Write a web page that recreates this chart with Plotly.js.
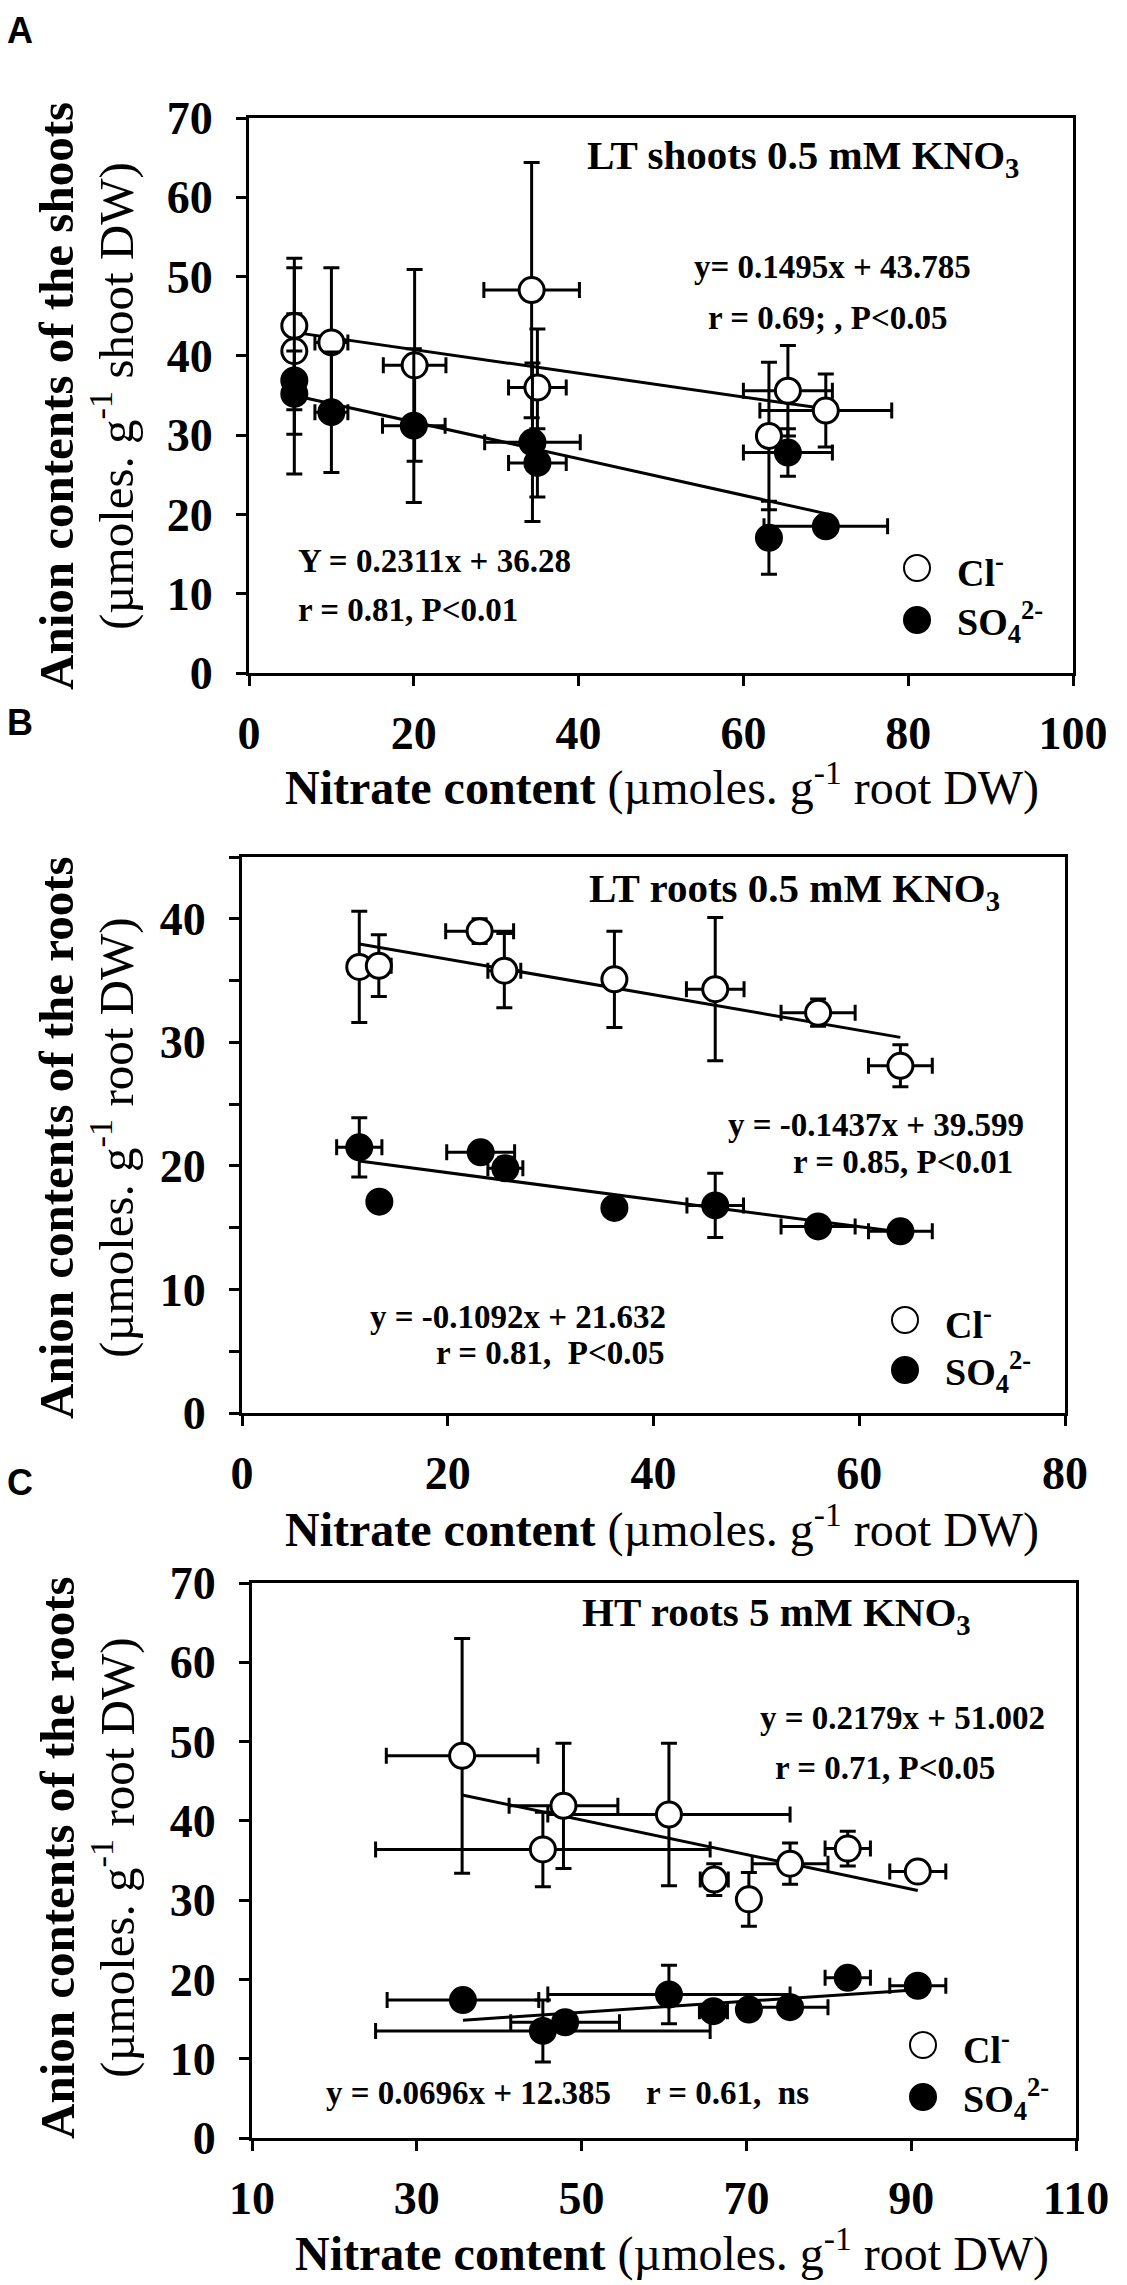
<!DOCTYPE html>
<html>
<head>
<meta charset="utf-8">
<script src="https://cdn.plot.ly/plotly-3.0.1.min.js"></script>
<style>html,body{margin:0;padding:0;background:#fff;}#chart{width:1127px;height:2285px;}</style>
</head>
<body>
<div id="chart"></div>
<script>
// ---------- Panel A : LT shoots 0.5 mM KNO3 ----------
const aClX  = [5.5, 5.5, 10.0, 20.1, 34.3, 35.0, 63.1, 65.4, 70.0];
const aClY  = [43.8, 40.6, 41.7, 38.8, 48.3, 36.0, 29.9, 35.6, 33.1];
const aClEx = [0.5, 0.5, 2.0, 3.8, 5.8, 3.5, 1.0, 5.4, 8.0];
const aClEy = [8.5, 10.5, 9.4, 12.1, 16.1, 7.4, 9.3, 5.7, 4.6];
const aSoX  = [5.5, 5.5, 10.0, 20.0, 34.4, 35.0, 63.1, 65.4, 70.0];
const aSoY  = [36.9, 35.2, 32.9, 31.2, 29.1, 26.5, 17.05, 27.8, 18.5];
const aSoEx = [0.5, 0.5, 2.0, 3.8, 5.8, 3.5, 1.0, 5.4, 7.5];
const aSoEy = [3.7, 10.1, 7.6, 9.7, 10.0, 4.3, 4.6, 3.0, 0.5];
const aClFit = [-0.1495, 43.785];   // slope, intercept
const aSoFit = [-0.2311, 36.28];

// ---------- Panel B : LT roots 0.5 mM KNO3 ----------
const bClX  = [11.4, 13.3, 23.1, 25.5, 36.2, 46.0, 56.0, 64.0];
const bClY  = [36.1, 36.2, 39.0, 35.8, 35.1, 34.3, 32.4, 28.1];
const bClEx = [1.0, 1.2, 3.3, 1.6, 0.6, 2.8, 3.6, 3.1];
const bClEy = [4.5, 2.5, 1.0, 3.0, 3.9, 5.8, 1.1, 1.7];
const bSoX  = [11.4, 13.35, 23.2, 25.6, 36.2, 46.0, 56.0, 64.0];
const bSoY  = [21.5, 17.1, 21.1, 19.8, 16.6, 16.8, 15.1, 14.7];
const bSoEx = [2.2, 0.8, 3.3, 1.7, 0.8, 2.75, 3.6, 3.1];
const bSoEy = [2.4, 0.4, 0.4, 0.9, 0.3, 2.6, 0.8, 0.3];
const bClFit = [-0.1437, 39.599];
const bSoFit = [-0.1092, 21.632];

// ---------- Panel C : HT roots 5 mM KNO3 ----------
const cClX  = [35.5, 45.3, 47.8, 60.6, 66.1, 70.3, 75.3, 82.3, 90.8];
const cClY  = [48.2, 36.4, 41.9, 40.8, 32.6, 30.1, 34.6, 36.5, 33.6];
const cClEx = [9.2, 20.3, 6.6, 14.7, 1.7, 0.5, 4.6, 2.75, 3.4];
const cClEy = [14.8, 4.7, 7.9, 9.0, 2.0, 3.4, 2.6, 2.2, 0.5];
const cSoX  = [35.6, 45.3, 48.0, 60.6, 66.0, 70.3, 75.3, 82.3, 90.8];
const cSoY  = [17.4, 13.5, 14.6, 18.1, 16.0, 16.2, 16.5, 20.2, 19.2];
const cSoEx = [9.2, 20.3, 6.6, 14.7, 1.7, 0.5, 4.6, 2.75, 3.4];
const cSoEy = [0.5, 3.9, 1.0, 3.7, 1.0, 0.5, 0.5, 0.5, 0.5];
const cClFit = [-0.2179, 51.002];
const cSoFit = [0.0696, 12.385];

// axis ranges
const aXRange = [0, 100], aYRange = [0, 70];
const bXRange = [0, 80],  bYRange = [0, 45];
const cXRange = [10, 110], cYRange = [0, 70];

// ---------- layout helpers ----------
const W = 1127, H = 2285;
const px = x => x / W;
const py = y => 1 - y / H;
const SERIF = 'Liberation Serif, Times New Roman, serif';

function fitLine(xs, fit, xa, ya) {
  const x0 = Math.min(...xs), x1 = Math.max(...xs);
  return {type: 'scatter', mode: 'lines', x: [x0, x1], y: [fit[1] + fit[0] * x0, fit[1] + fit[0] * x1],
          xaxis: xa, yaxis: ya, line: {color: 'black', width: 3}, hoverinfo: 'skip', showlegend: false};
}
function pts(name, xs, ys, ex, ey, filled, xa, ya) {
  return {type: 'scatter', mode: 'markers', name: name, x: xs, y: ys, xaxis: xa, yaxis: ya,
    error_x: {type: 'data', array: ex, visible: true, color: 'black', thickness: 3, width: 8},
    error_y: {type: 'data', array: ey, visible: true, color: 'black', thickness: 3, width: 8},
    marker: {symbol: 'circle', size: 25, color: filled ? 'black' : 'white', line: {color: 'black', width: 3}},
    showlegend: false, cliponaxis: false};
}

const traces = [
  fitLine(aClX, aClFit, 'x', 'y'), fitLine(aSoX, aSoFit, 'x', 'y'),
  pts('Cl-', aClX, aClY, aClEx, aClEy, false, 'x', 'y'),
  pts('SO4 2-', aSoX, aSoY, aSoEx, aSoEy, true, 'x', 'y'),
  fitLine(bClX, bClFit, 'x2', 'y2'), fitLine(bSoX, bSoFit, 'x2', 'y2'),
  pts('Cl-', bClX, bClY, bClEx, bClEy, false, 'x2', 'y2'),
  pts('SO4 2-', bSoX, bSoY, bSoEx, bSoEy, true, 'x2', 'y2'),
  fitLine(cClX, cClFit, 'x3', 'y3'), fitLine(cSoX, cSoFit, 'x3', 'y3'),
  pts('Cl-', cClX, cClY, cClEx, cClEy, false, 'x3', 'y3'),
  pts('SO4 2-', cSoX, cSoY, cSoEx, cSoEy, true, 'x3', 'y3')
];

const tickFont = {family: SERIF, size: 46, color: 'black', weight: 700};
function xAx(dom, range, tick0, anchor) {
  return {domain: [px(dom[0]), px(dom[1])], range: range, anchor: anchor, tick0: tick0, dtick: 20,
    showline: true, linewidth: 3, linecolor: 'black', mirror: true, ticks: 'outside', ticklen: 10,
    tickwidth: 3, tickcolor: 'black', showgrid: false, zeroline: false, tickfont: tickFont,
    ticklabelstandoff: 8, fixedrange: true};
}
function yAx(dom, range, anchor, minor) {
  const o = {domain: [py(dom[1]), py(dom[0])], range: range, anchor: anchor, tick0: 0, dtick: 10,
    showline: true, linewidth: 3, linecolor: 'black', mirror: true, ticks: 'outside', ticklen: 10,
    tickwidth: 3, tickcolor: 'black', showgrid: false, zeroline: false, tickfont: tickFont,
    ticklabelstandoff: 14, fixedrange: true};
  if (minor) o.minor = {dtick: 5, ticks: 'outside', ticklen: 10, tickwidth: 3, tickcolor: 'black', showgrid: false};
  return o;
}

const ann = [];
function T(text, x, y, size, opts) {
  ann.push(Object.assign({text: text, x: px(x), y: py(y), xref: 'paper', yref: 'paper', showarrow: false,
    xanchor: 'left', yanchor: 'middle', font: {family: SERIF, size: size, color: 'black'}}, opts || {}));
}
function bold(size) { return {font: {family: SERIF, size: size, color: 'black', weight: 700}}; }

// panel letters
const letterY = [30, 722, 1482];
['A', 'B', 'C'].forEach((l, i) => {
  ann.push({text: l, x: px(5), y: py(letterY[i]), xref: 'paper', yref: 'paper', showarrow: false,
    xanchor: 'left', yanchor: 'middle', font: {family: 'Liberation Sans, Arial, sans-serif', size: 36, color: 'black', weight: 700}});
});

// Panel A texts
T('LT shoots 0.5 mM KNO<sub>3</sub>', 585, 158, 41, bold(41));
T('y= 0.1495x + 43.785', 692, 267, 33, bold(33));
T('r = 0.69; , P<0.05', 706, 318, 33, bold(33));
T('Y = 0.2311x + 36.28', 296, 561, 33, bold(33));
T('r = 0.81, P<0.01', 296, 610, 33, bold(33));
// Panel B texts
T('LT roots 0.5 mM KNO<sub>3</sub>', 587, 891, 41, bold(41));
T('y = -0.1437x + 39.599', 726, 1125, 33, bold(33));
T('r = 0.85, P<0.01', 791, 1162, 33, bold(33));
T('y = -0.1092x + 21.632', 368, 1317, 33, bold(33));
T('r = 0.81,  P<0.05', 434, 1353, 33, bold(33));
// Panel C texts
T('HT roots 5 mM KNO<sub>3</sub>', 580, 1615, 41, bold(41));
T('y = 0.2179x + 51.002', 758, 1718, 33, bold(33));
T('r = 0.71, P<0.05', 773, 1768, 33, bold(33));
T('y = 0.0696x + 12.385', 324, 2093, 33, bold(33));
T('r = 0.61,  ns', 644, 2093, 33, bold(33));

// x axis titles
const xTitle = '<b>Nitrate content</b> (µmoles. g<sup>-1</sup> root DW)';
[[662, 785], [662, 1526], [672, 2250]].forEach(p => {
  T(xTitle, p[0], p[1], 48, {xanchor: 'center'});
});
// y axis titles (two lines each)
const yTitles = [
  ['Anion contents of the shoots', '(µmoles. g<sup>-1</sup> shoot DW)', 396],
  ['Anion contents of the roots', '(µmoles. g<sup>-1</sup> root DW)', 1138],
  ['Anion contents of the roots', '(µmoles. g<sup>-1</sup> root DW)', 1858]
];
yTitles.forEach(t => {
  T('<b>' + t[0] + '</b>', 57, t[2], 49, {xanchor: 'center', textangle: -90});
  T(t[1], 113, t[2], 49, {xanchor: 'center', textangle: -90});
});

// legends (drawn glyphs + text)
const shapes = [];
function legend(cx, cyCl, cySo) {
  const r = 13;
  shapes.push({type: 'circle', xref: 'paper', yref: 'paper', x0: px(cx - r), x1: px(cx + r), y0: py(cyCl + r), y1: py(cyCl - r),
    fillcolor: 'white', line: {color: 'black', width: 2}});
  shapes.push({type: 'circle', xref: 'paper', yref: 'paper', x0: px(cx - r), x1: px(cx + r), y0: py(cySo + r), y1: py(cySo - r),
    fillcolor: 'black', line: {color: 'black', width: 2}});
  T('Cl<sup>-</sup>', cx + 38, cyCl + 2, 38, bold(38));
  T('SO<sub>4</sub><sup>2-</sup>', cx + 38, cySo + 2, 38, bold(38));
}
legend(917, 568, 620);
legend(905, 1320, 1370);
legend(923, 2045, 2097);

const layout = {
  width: W, height: H, margin: {l: 0, r: 0, t: 0, b: 0},
  paper_bgcolor: 'white', plot_bgcolor: 'white', showlegend: false,
  xaxis:  xAx([249, 1073], aXRange, 0, 'y'),
  yaxis:  yAx([118, 673], aYRange, 'x', false),
  xaxis2: xAx([242, 1065], bXRange, 0, 'y2'),
  yaxis2: yAx([857, 1413], bYRange, 'x2', true),
  xaxis3: xAx([252, 1076], cXRange, 10, 'y3'),
  yaxis3: yAx([1583, 2138], cYRange, 'x3', false),
  annotations: ann, shapes: shapes
};

Plotly.newPlot('chart', traces, layout, {displayModeBar: false, staticPlot: true});
</script>
</body>
</html>
